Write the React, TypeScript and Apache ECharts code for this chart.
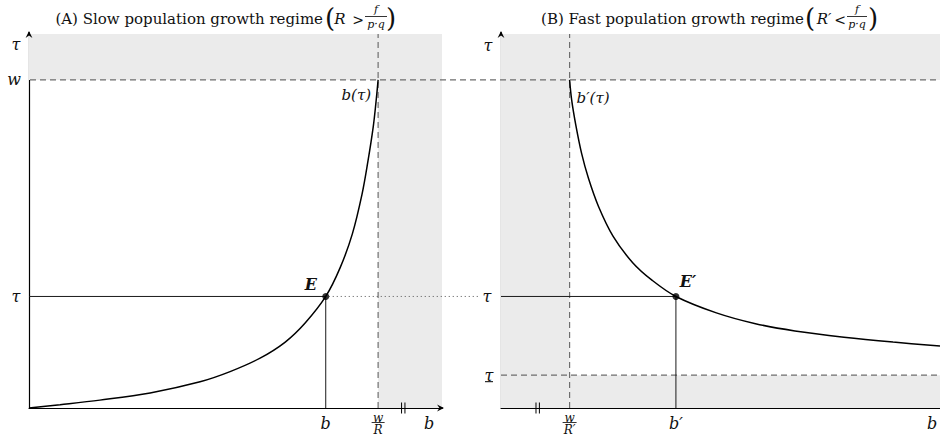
import { useEffect, useRef } from "react";
import * as echarts from "echarts";

// Levels on the τ axis
const W_LEVEL = 100; // w
const TAU_STAR = 34; // equilibrium τ
const TAU_LOW = 10; // lower bound τ̲
const TAU_MAX = 114;

// Slow regime, b axis
const W_OVER_R = 100; // w / R
const B_STAR = 85; // equilibrium b
const B_BREAK = 107.2; // axis break mark
const B_MAX_SLOW = 118.3;

// Fast regime, b axis
const W_OVER_R_FAST = 20; // w / R'
const B_STAR_FAST = 51; // equilibrium b'
const B_BREAK_FAST = 10.7;
const B_MAX_FAST = 128;

// b(τ) in the slow regime
const slowB = [0, 8.9, 20.3, 34.7, 49.0, 57.6, 66.2, 73.4, 79.1, 85, 89.1, 92.6, 95.4, 97.1, 98.6, 99.4, 100];
const slowTau = [0, 1.0, 2.4, 4.6, 8.0, 11.1, 15.2, 20.1, 25.9, 34, 42.7, 53.0, 65.2, 75.3, 85.7, 93.3, 100];

// b'(τ) in the fast regime
const fastB = [20, 20.6, 21.8, 23.5, 25.5, 28.4, 32.7, 38.4, 44.1, 51, 62.8, 74.2, 85.7, 100, 114.3, 128];
const fastTau = [100, 93.9, 86.3, 77.6, 70.0, 61.5, 52.3, 44.3, 38.9, 34, 29.0, 25.7, 23.5, 21.6, 20.1, 18.9];

const SERIF = "DejaVu Serif";
const INK = "#111";
const SHADE = "#ebebeb";
const DASH = { color: "#6e6e6e", width: 1.2, type: [6, 4] as number[] };

const zip = (xs: number[], ys: number[]) => xs.map((x, i) => [x, ys[i]]);

type Px = (g: number, p: number[]) => number[];

function txt(x: number, y: number, text: string, size: number, opts: any = {}) {
  return {
    type: "text",
    x,
    y,
    z: 20,
    silent: true,
    style: {
      text,
      fontFamily: SERIF,
      fontSize: size,
      fontStyle: opts.italic === false ? "normal" : "italic",
      fontWeight: opts.bold ? "bold" : "normal",
      fill: INK,
      align: opts.align || "center",
      verticalAlign: "middle",
    },
  };
}

function seg(x1: number, y1: number, x2: number, y2: number, style: any = {}) {
  return {
    type: "line",
    z: 15,
    silent: true,
    shape: { x1, y1, x2, y2 },
    style: { stroke: "#000", lineWidth: 1, ...style },
  };
}

// arrowhead pointing along (dx, dy), tip at (x, y)
function arrow(x: number, y: number, dx: number, dy: number) {
  const len = 7;
  const half = 3.4;
  const nx = -dy;
  const ny = dx;
  const bx = x - dx * len;
  const by = y - dy * len;
  const mx = x - dx * len * 0.65;
  const my = y - dy * len * 0.65;
  return {
    type: "polygon",
    z: 16,
    silent: true,
    shape: {
      points: [
        [x, y],
        [bx + nx * half, by + ny * half],
        [mx, my],
        [bx - nx * half, by - ny * half],
      ],
    },
    style: { fill: "#000" },
  };
}

function frac(cx: number, yNum: number, yBar: number, yDen: number, num: string, den: string, size: number, barW: number) {
  return [
    txt(cx, yNum, num, size),
    seg(cx - barW / 2, yBar, cx + barW / 2, yBar, { lineWidth: 0.8 }),
    txt(cx, yDen, den, size),
  ];
}

function title(endX: number, label: string, lhs: string, rel: string, parenL: number, lhsX: number, relX: number, fracX: number, barW: number, parenR: number) {
  return [
    txt(endX, 19, label, 15, { italic: false, align: "right" }),
    txt(parenL, 18, "(", 26, { italic: false }),
    txt(lhsX, 19, lhs, 15),
    txt(relX, 19.5, rel, 14, { italic: false }),
    ...frac(fracX, 9, 16.5, 24, "f", "p·q", 11, barW),
    txt(parenR, 18, ")", 26, { italic: false }),
  ];
}

function buildGraphics(px: Px) {
  const [ax0, yW] = px(0, [0, W_LEVEL]);
  const [, yTop] = px(0, [0, TAU_MAX]);
  const [xE, yE] = px(0, [B_STAR, TAU_STAR]);
  const [xWR, yBase] = px(0, [W_OVER_R, 0]);
  const [xEnd0] = px(0, [B_MAX_SLOW, 0]);
  const [xBr0] = px(0, [B_BREAK, 0]);

  const [ax1] = px(1, [0, 0]);
  const [xE1, yE1] = px(1, [B_STAR_FAST, TAU_STAR]);
  const [xWR1] = px(1, [W_OVER_R_FAST, 0]);
  const [, yLow] = px(1, [0, TAU_LOW]);
  const [xBr1] = px(1, [B_BREAK_FAST, 0]);

  const brk = (x: number) => [
    seg(x - 1.7, yBase - 5.5, x - 1.7, yBase + 5.5, { lineWidth: 1 }),
    seg(x + 1.7, yBase - 5.5, x + 1.7, yBase + 5.5, { lineWidth: 1 }),
  ];

  const yLab = yBase + 15;

  return [
    // axis extensions with arrowheads
    seg(ax0, yTop, ax0, yTop - 2, { lineWidth: 1.2 }),
    arrow(ax0, yTop - 3, 0, -1),
    seg(xEnd0, yBase, xEnd0 + 1, yBase, { lineWidth: 1.2 }),
    arrow(xEnd0 + 2, yBase, 1, 0),
    seg(ax1, yTop, ax1, yTop - 2, { lineWidth: 1.2 }),
    arrow(ax1, yTop - 3, 0, -1),

    // w level, shared by both panels
    seg(ax0 + 1, yW, 940, yW, { stroke: DASH.color, lineWidth: DASH.width, lineDash: DASH.type }),
    // τ level carried over from E to the fast panel
    seg(xE + 3, yE, ax1 - 22, yE, { stroke: "#555", lineWidth: 1, lineDash: [1, 3] }),

    ...brk(xBr0),
    ...brk(xBr1),

    // Slow regime labels
    txt(ax0 - 13, yTop + 10, "τ", 16),
    txt(ax0 - 15, yW, "w", 16),
    txt(ax0 - 13, yE, "τ", 16),
    txt(xWR - 7, yW + 15, "b(τ)", 15, { align: "right" }),
    txt(xE - 15, yE - 12, "E", 16, { bold: true }),
    txt(xE, yLab, "b", 16),
    ...frac(xWR, yBase + 9.5, yBase + 14.5, yBase + 22, "w", "R", 12, 13),
    txt(xEnd0 - 13, yLab, "b", 16),

    // Fast regime labels
    txt(ax1 - 13, yTop + 11, "τ", 16),
    txt(ax1 - 14, yE1, "τ", 16),
    txt(ax1 - 12, yLow, "τ", 16),
    seg(ax1 - 16, yLow + 6.5, ax1 - 8, yLow + 6.5, { lineWidth: 1 }),
    txt(xWR1 + 7, yW + 18, "b′(τ)", 15, { align: "left" }),
    txt(xE1 + 12, yE1 - 15, "E′", 16, { bold: true }),
    ...frac(xWR1, yBase + 9.5, yBase + 14.5, yBase + 22, "w", "R′", 12, 14),
    txt(xE1, yLab, "b′", 16),
    txt(932, yLab, "b", 16),

    // Panel titles
    ...title(323, "(A) Slow population growth regime", "R", ">", 330, 340, 358, 376, 22, 391),
    ...title(804, "(B) Fast population growth regime", "R′", "<", 810, 824, 840, 857, 20, 873),
  ];
}

function axisPair(max: number) {
  const axisLine = {
    show: true,
    onZero: false,
    lineStyle: { color: "#000", width: 1.2 },
  };
  const common = {
    type: "value",
    min: 0,
    axisLine,
    axisTick: { show: false },
    axisLabel: { show: false },
    splitLine: { show: false },
  };
  return {
    x: { ...common, max },
    y: { ...common, max: TAU_MAX },
  };
}

function buildOption() {
  const a = axisPair(B_MAX_SLOW);
  const b = axisPair(B_MAX_FAST);
  const shade = (areas: number[][]) => ({
    silent: true,
    itemStyle: { color: SHADE },
    data: areas.map(([x1, y1, x2, y2]) => [
      { xAxis: x1, yAxis: y1 },
      { xAxis: x2, yAxis: y2 },
    ]),
  });
  const line = (g: number, data: number[][], style: any, z = 3) => ({
    type: "line",
    xAxisIndex: g,
    yAxisIndex: g,
    data,
    showSymbol: false,
    silent: true,
    z,
    lineStyle: style,
  });

  return {
    animation: false,
    backgroundColor: "#fff",
    textStyle: { fontFamily: SERIF },
    grid: [
      { left: 29, top: 34, width: 413, height: 374 },
      { left: 501, top: 34, width: 447, height: 374 },
    ],
    xAxis: [
      { ...a.x, gridIndex: 0 },
      { ...b.x, gridIndex: 1 },
    ],
    yAxis: [
      { ...a.y, gridIndex: 0 },
      { ...b.y, gridIndex: 1 },
    ],
    series: [
      // shaded regions
      {
        type: "line",
        xAxisIndex: 0,
        yAxisIndex: 0,
        data: [],
        z: 0,
        markArea: shade([
          [0, W_LEVEL, B_MAX_SLOW, TAU_MAX],
          [W_OVER_R, 0, B_MAX_SLOW, W_LEVEL],
        ]),
      },
      {
        type: "line",
        xAxisIndex: 1,
        yAxisIndex: 1,
        data: [],
        z: 0,
        markArea: shade([
          [0, W_LEVEL, B_MAX_FAST, TAU_MAX],
          [0, 0, W_OVER_R_FAST, W_LEVEL],
          [W_OVER_R_FAST, 0, B_MAX_FAST, TAU_LOW],
        ]),
      },
      // dashed guides
      line(0, [[W_OVER_R, 0], [W_OVER_R, TAU_MAX]], DASH, 2),
      line(1, [[W_OVER_R_FAST, 0], [W_OVER_R_FAST, TAU_MAX]], DASH, 2),
      line(1, [[0, TAU_LOW], [B_MAX_FAST, TAU_LOW]], DASH, 2),
      // equilibrium projections
      line(0, [[0, TAU_STAR], [B_STAR, TAU_STAR], [B_STAR, 0]], { color: "#1a1a1a", width: 1 }),
      line(1, [[0, TAU_STAR], [B_STAR_FAST, TAU_STAR], [B_STAR_FAST, 0]], { color: "#1a1a1a", width: 1 }),
      // curves
      { ...line(0, zip(slowB, slowTau), { color: "#000", width: 1.5 }, 4), smooth: 0.35 },
      { ...line(1, zip(fastB, fastTau), { color: "#000", width: 1.5 }, 4), smooth: 0.35 },
      // equilibria
      {
        type: "scatter",
        xAxisIndex: 0,
        yAxisIndex: 0,
        data: [[B_STAR, TAU_STAR]],
        symbolSize: 7,
        itemStyle: { color: "#000" },
        silent: true,
        z: 6,
      },
      {
        type: "scatter",
        xAxisIndex: 1,
        yAxisIndex: 1,
        data: [[B_STAR_FAST, TAU_STAR]],
        symbolSize: 7,
        itemStyle: { color: "#000" },
        silent: true,
        z: 6,
      },
    ],
  };
}

export default function App() {
  const ref = useRef<HTMLDivElement>(null);

  useEffect(() => {
    const el = ref.current;
    if (!el) return;
    const chart = echarts.init(el, undefined, { renderer: "svg", width: 940, height: 442 });
    chart.setOption(buildOption() as any);
    const px: Px = (g, p) => chart.convertToPixel({ gridIndex: g }, p) as number[];
    chart.setOption({ graphic: { elements: buildGraphics(px) } } as any);
    return () => chart.dispose();
  }, []);

  return (
    <div
      ref={ref}
      style={{ position: "fixed", left: 0, top: 0, width: 940, height: 442, background: "#fff" }}
    />
  );
}
